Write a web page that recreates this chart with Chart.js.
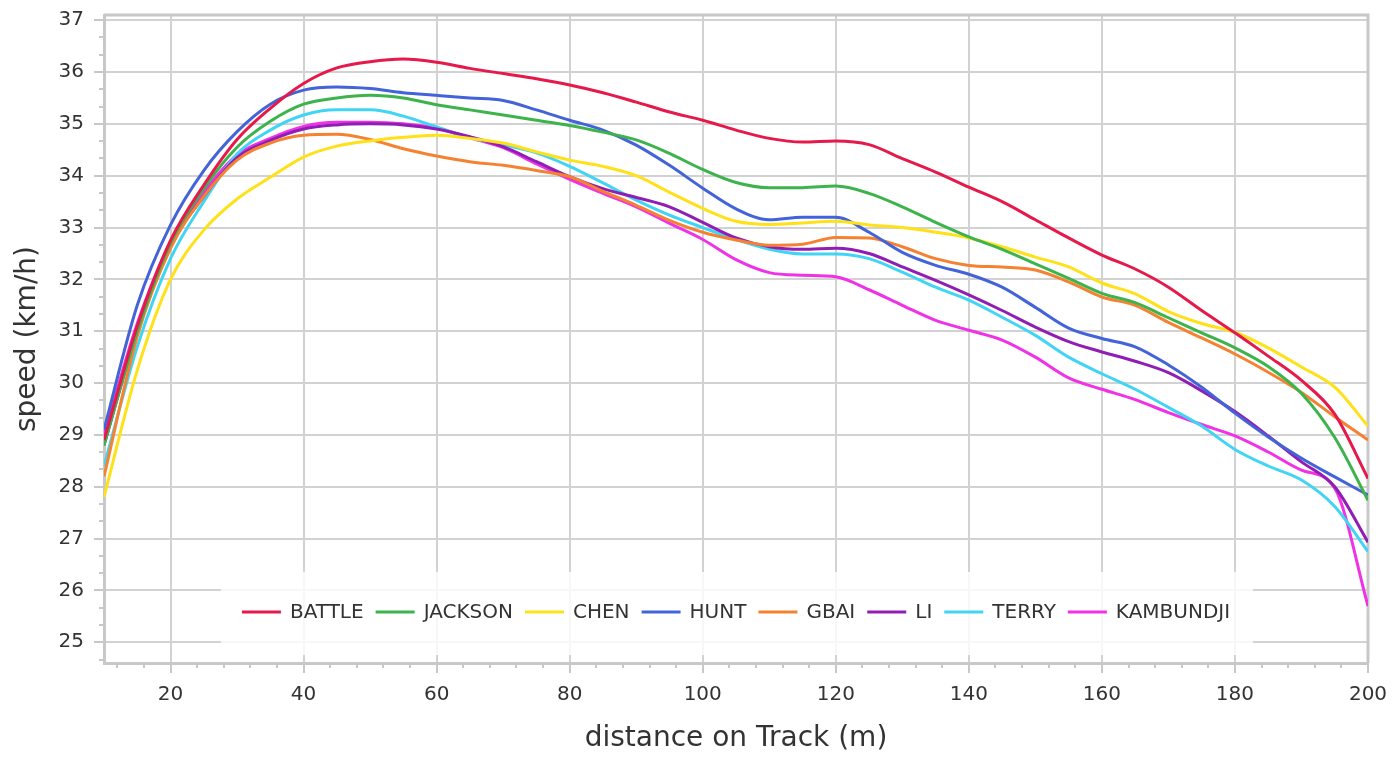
<!DOCTYPE html>
<html>
<head>
<meta charset="utf-8">
<script src="https://cdn.jsdelivr.net/npm/chart.js@4.4.1/dist/chart.umd.min.js"></script>
<style>
  html, body { margin: 0; padding: 0; background: #fff; }
  #wrap { width: 1393px; height: 760px; position: relative; }
</style>
</head>
<body>
<div id="wrap"><canvas id="speedChart"></canvas></div>
<script>
// distance on track (m)
const distances = [10, 15, 20, 25, 30, 35, 40, 45, 50, 55, 60, 65, 70, 75, 80, 85, 90, 95, 100,
    105, 110, 115, 120, 125, 130, 135, 140, 145, 150, 155, 160, 165, 170, 175, 180, 185, 190, 195, 200];

// speed (km/h) per runner
const battle = [28.9, 31.1, 32.75, 33.82, 34.7, 35.3, 35.78, 36.08, 36.2, 36.25, 36.19, 36.07, 35.97, 35.87, 35.75, 35.6, 35.42, 35.23, 35.07,
    34.88, 34.72, 34.65, 34.67, 34.6, 34.33, 34.07, 33.78, 33.5, 33.15, 32.8, 32.47, 32.2, 31.85, 31.4, 30.97, 30.52, 30.05, 29.4, 28.16];
const jackson = [28.8, 31.0, 32.7, 33.75, 34.55, 35.05, 35.38, 35.5, 35.55, 35.5, 35.37, 35.27, 35.17, 35.07, 34.97, 34.84, 34.69, 34.43, 34.12,
    33.87, 33.77, 33.77, 33.8, 33.66, 33.4, 33.1, 32.82, 32.58, 32.3, 32.02, 31.73, 31.55, 31.26, 30.97, 30.68, 30.32, 29.8, 28.95, 27.74];
const chen = [27.8, 30.25, 32.0, 32.95, 33.55, 33.97, 34.36, 34.57, 34.67, 34.74, 34.78, 34.72, 34.63, 34.46, 34.3, 34.18, 34.0, 33.68, 33.37,
    33.12, 33.06, 33.09, 33.12, 33.05, 33.0, 32.91, 32.8, 32.63, 32.43, 32.24, 31.93, 31.72, 31.38, 31.15, 30.98, 30.68, 30.31, 29.92, 29.17];
const hunt = [29.1, 31.5, 33.05, 34.1, 34.85, 35.38, 35.65, 35.71, 35.68, 35.6, 35.55, 35.5, 35.45, 35.27, 35.07, 34.88, 34.59, 34.2, 33.76,
    33.36, 33.15, 33.2, 33.2, 32.91, 32.52, 32.27, 32.1, 31.85, 31.46, 31.06, 30.86, 30.7, 30.35, 29.92, 29.42, 28.96, 28.55, 28.19, 27.84];
const gbai = [28.2, 30.9, 32.6, 33.6, 34.3, 34.63, 34.78, 34.8, 34.7, 34.52, 34.38, 34.27, 34.2, 34.1, 33.98, 33.7, 33.43, 33.14, 32.91,
    32.76, 32.66, 32.68, 32.81, 32.8, 32.63, 32.4, 32.27, 32.24, 32.18, 31.95, 31.66, 31.5, 31.17, 30.87, 30.56, 30.21, 29.82, 29.35, 28.9];
const li = [28.8, 31.0, 32.65, 33.6, 34.35, 34.68, 34.9, 34.98, 35.0, 34.98, 34.9, 34.75, 34.56, 34.27, 33.98, 33.75, 33.58, 33.4, 33.1,
    32.8, 32.63, 32.58, 32.6, 32.5, 32.24, 31.98, 31.7, 31.4, 31.08, 30.8, 30.6, 30.42, 30.2, 29.85, 29.45, 28.98, 28.48, 28.0, 26.93];
const terry = [28.4, 30.7, 32.4, 33.5, 34.42, 34.88, 35.17, 35.27, 35.27, 35.15, 34.94, 34.73, 34.6, 34.44, 34.18, 33.86, 33.53, 33.24, 33.0,
    32.77, 32.58, 32.49, 32.49, 32.4, 32.14, 31.85, 31.6, 31.27, 30.92, 30.5, 30.18, 29.88, 29.53, 29.17, 28.72, 28.4, 28.13, 27.62, 26.75];
const kambundji = [29.0, 31.15, 32.72, 33.68, 34.4, 34.72, 34.95, 35.03, 35.03, 35.0, 34.92, 34.73, 34.54, 34.23, 33.93, 33.66, 33.4, 33.08, 32.77,
    32.38, 32.13, 32.08, 32.05, 31.8, 31.5, 31.21, 31.02, 30.83, 30.5, 30.1, 29.88, 29.68, 29.43, 29.2, 28.98, 28.67, 28.32, 27.97, 25.7];

const runners = ["BATTLE", "JACKSON", "CHEN", "HUNT", "GBAI", "LI", "TERRY", "KAMBUNDJI"];
const speeds = [battle, jackson, chen, hunt, gbai, li, terry, kambundji];
const colors = ["#e6194b", "#3cb44b", "#ffe119", "#4363d8", "#f58231", "#911eb4", "#42d4f4", "#f032e6"];

// tick labels
const xTicks = [20, 40, 60, 80, 100, 120, 140, 160, 180, 200];
const yTicks = [25, 26, 27, 28, 29, 30, 31, 32, 33, 34, 35, 36, 37];

const FONT = "'DejaVu Sans', sans-serif";
const TEXT = "#333333";
const GRID = "#d2d2d2";
const FRAME = "#c8c8c8";

Chart.defaults.font.family = FONT;

// top/right frame and the small minor ticks outside the axes
const frameAndMinorTicks = {
    id: "frameAndMinorTicks",
    beforeDatasetsDraw(chart) {
        const { ctx, chartArea: a, scales } = chart;
        ctx.save();
        ctx.strokeStyle = FRAME;
        ctx.lineWidth = 3;
        ctx.beginPath();
        ctx.moveTo(a.left, a.top);
        ctx.lineTo(a.right, a.top);
        ctx.lineTo(a.right, a.bottom);
        ctx.stroke();

        ctx.lineWidth = 2;
        ctx.beginPath();
        for (let v = 12; v <= 200; v += 4) {
            if (v % 20 === 0) continue;
            const px = Math.round(scales.x.getPixelForValue(v));
            ctx.moveTo(px, a.bottom);
            ctx.lineTo(px, a.bottom + 5);
        }
        for (let k = 74; k <= 111; k++) {
            if (k % 3 === 0) continue;
            const py = Math.round(scales.y.getPixelForValue(k / 3));
            ctx.moveTo(a.left - 5, py);
            ctx.lineTo(a.left, py);
        }
        ctx.stroke();
        ctx.restore();
    }
};

// legend drawn inside the plot, near the bottom
const insideLegend = {
    id: "insideLegend",
    afterDatasetsDraw(chart) {
        const { ctx, chartArea: a } = chart;
        const marker = 39, gap = 9, spacing = 12;
        ctx.save();
        ctx.font = "20px " + FONT;
        const widths = chart.data.datasets.map(ds => ctx.measureText(ds.label).width);
        let total = spacing * (widths.length - 1);
        widths.forEach(w => total += marker + gap + w);
        let x = (a.left + a.right) / 2 - total / 2;
        const y = a.bottom - 51;

        ctx.fillStyle = "rgba(255,255,255,0.82)";
        ctx.fillRect(x - 21, y - 40, total + 44, 83);

        ctx.textBaseline = "middle";
        chart.data.datasets.forEach((ds, i) => {
            ctx.strokeStyle = ds.borderColor;
            ctx.lineWidth = 3;
            ctx.beginPath();
            ctx.moveTo(x, y);
            ctx.lineTo(x + marker, y);
            ctx.stroke();
            ctx.fillStyle = TEXT;
            ctx.fillText(ds.label, x + marker + gap, y + 1);
            x += marker + gap + widths[i] + spacing;
        });
        ctx.restore();
    }
};

// keep tick labels from pushing the plot area inwards
function noLabelPadding(scale) {
    scale.paddingTop = 0;
    scale.paddingBottom = 0;
    scale.paddingLeft = 0;
    scale.paddingRight = 0;
}

let ctx = document.getElementById("speedChart").getContext("2d");

window.speedChart = new Chart(ctx, {
    type: "line",
    data: {
        datasets: runners.map((name, i) => ({
            label: name,
            data: distances.map((d, j) => ({ x: d, y: speeds[i][j] })),
            borderColor: colors[i],
            backgroundColor: colors[i],
            borderWidth: 3,
            pointRadius: 0,
            cubicInterpolationMode: "monotone",
            fill: false
        }))
    },
    options: {
        responsive: true,
        maintainAspectRatio: false,
        animation: false,
        layout: { padding: { top: 15, right: 25, left: 0, bottom: 0 } },
        plugins: {
            legend: { display: false },
            tooltip: { enabled: false }
        },
        scales: {
            x: {
                type: "linear",
                min: 10,
                max: 200,
                afterBuildTicks: scale => { scale.ticks = xTicks.map(v => ({ value: v })); },
                afterFit: scale => { scale.height = 97; noLabelPadding(scale); },
                grid: { color: GRID, lineWidth: 2, tickLength: 10, tickColor: FRAME },
                border: { color: FRAME, width: 3 },
                ticks: { color: TEXT, font: { size: 20 }, padding: 10, maxRotation: 0, autoSkip: false },
                title: {
                    display: true,
                    text: "distance on Track (m)",
                    color: TEXT,
                    font: { size: 28 },
                    padding: { top: 0, bottom: 4 }
                }
            },
            y: {
                min: 24.6,
                max: 37.1,
                afterBuildTicks: scale => { scale.ticks = yTicks.map(v => ({ value: v })); },
                afterFit: scale => { scale.width = 104; noLabelPadding(scale); },
                grid: { color: GRID, lineWidth: 2, tickLength: 10, tickColor: FRAME },
                border: { color: FRAME, width: 3 },
                ticks: { color: TEXT, font: { size: 20 }, padding: 10 },
                title: {
                    display: true,
                    text: "speed (km/h)",
                    color: TEXT,
                    font: { size: 28 },
                    padding: { top: 11, bottom: 0 }
                }
            }
        }
    },
    plugins: [frameAndMinorTicks, insideLegend]
});
</script>
</body>
</html>
